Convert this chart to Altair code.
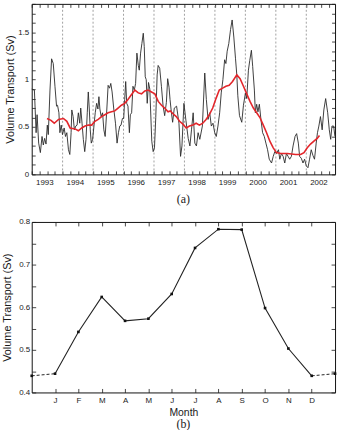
import altair as alt
import pandas as pd

# ---- Panel (a): volume transport time series (Sv), time in decimal years ----
raw_t = [1992.586, 1992.674, 1992.730, 1992.762, 1992.814, 1992.870, 1992.925, 1992.967,
         1993.010, 1993.055, 1993.098, 1993.130, 1993.186, 1993.238, 1993.293, 1993.349,
         1993.401, 1993.433, 1993.479, 1993.511, 1993.554, 1993.596, 1993.651, 1993.694,
         1993.739, 1993.792, 1993.837, 1993.879, 1993.902, 1993.945, 1993.987, 1994.033,
         1994.075, 1994.117, 1994.163, 1994.195, 1994.238, 1994.280, 1994.326, 1994.368,
         1994.410, 1994.443, 1994.476, 1994.508, 1994.541, 1994.586, 1994.629, 1994.671,
         1994.717, 1994.759, 1994.792, 1994.824, 1994.866, 1994.912, 1994.954, 1994.997,
         1995.052, 1995.094, 1995.140, 1995.182, 1995.225, 1995.280, 1995.336, 1995.388,
         1995.433, 1995.476, 1995.518, 1995.564, 1995.606, 1995.638, 1995.671, 1995.704,
         1995.746, 1995.792, 1995.824, 1995.866, 1995.909, 1995.954, 1995.997, 1996.039,
         1996.085, 1996.117, 1996.160, 1996.202, 1996.248, 1996.280, 1996.313, 1996.345,
         1996.378, 1996.420, 1996.463, 1996.528, 1996.573, 1996.616, 1996.658, 1996.704,
         1996.736, 1996.788, 1996.844, 1996.899, 1996.951, 1997.007, 1997.049, 1997.094,
         1997.127, 1997.169, 1997.212, 1997.267, 1997.342, 1997.420, 1997.472, 1997.518,
         1997.583, 1997.648, 1997.723, 1997.779, 1997.831, 1997.886, 1997.941, 1997.993,
         1998.049, 1998.104, 1998.189, 1998.267, 1998.319, 1998.375, 1998.430, 1998.482,
         1998.537, 1998.593, 1998.645, 1998.700, 1998.756, 1998.808, 1998.863, 1998.919,
         1998.961, 1999.003, 1999.055, 1999.114, 1999.166, 1999.221, 1999.277, 1999.319,
         1999.352, 1999.407, 1999.482, 1999.537, 1999.603, 1999.645, 1999.700, 1999.743,
         1999.798, 1999.840, 1999.896, 1999.928, 1999.971, 2000.013, 2000.059, 2000.111,
         2000.166, 2000.221, 2000.274, 2000.329, 2000.384, 2000.459, 2000.515, 2000.567,
         2000.622, 2000.687, 2000.730, 2000.785, 2000.840, 2000.893, 2000.948, 2001.003,
         2001.055, 2001.111, 2001.166, 2001.231, 2001.283, 2001.339, 2001.381, 2001.436,
         2001.492, 2001.544, 2001.599, 2001.655, 2001.707, 2001.762, 2001.818, 2001.870,
         2001.925, 2001.967, 2002.013, 2002.065, 2002.121, 2002.176, 2002.236, 2002.303,
         2002.355, 2002.401, 2002.443, 2002.498, 2002.541]
raw_v = [0.90, 0.89, 0.44, 0.63, 0.33, 0.23, 0.40, 0.31,
         0.38, 0.32, 0.52, 0.42, 0.89, 1.22, 1.17, 0.93,
         0.72, 0.73, 0.65, 0.44, 0.52, 0.42, 0.49, 0.40,
         0.44, 0.26, 0.21, 0.44, 0.68, 0.61, 0.47, 0.51,
         0.52, 0.65, 0.54, 0.70, 0.54, 0.37, 0.24, 0.37,
         0.65, 0.87, 0.69, 0.47, 0.33, 0.37, 0.51, 0.65,
         0.75, 0.69, 0.82, 0.69, 0.61, 0.65, 0.47, 0.40,
         0.69, 0.94, 0.91, 0.96, 0.87, 0.69, 0.54, 0.33,
         0.44, 0.51, 0.52, 0.59, 0.59, 0.79, 0.98, 0.75,
         0.72, 0.44, 0.63, 0.65, 0.93, 0.89, 0.96, 1.28,
         1.15, 1.10, 1.28, 1.38, 1.49, 1.35, 1.03, 1.00,
         0.75, 0.97, 0.90, 0.35, 0.24, 0.28, 0.60, 1.05,
         1.15, 1.12, 0.93, 0.72, 0.62, 0.76, 1.01, 0.92,
         0.79, 0.66, 0.55, 0.70, 0.72, 0.54, 0.19, 0.30,
         0.75, 0.57, 0.38, 0.30, 0.47, 0.65, 0.33, 0.30,
         0.44, 0.37, 0.51, 1.07, 0.79, 0.58, 0.65, 0.51,
         0.54, 0.44, 0.40, 0.51, 0.65, 0.86, 1.00, 1.21,
         1.17, 1.30, 1.38, 1.53, 1.63, 1.45, 1.22, 1.05,
         0.83, 0.62, 0.55, 0.73, 0.86, 0.80, 1.10, 1.20,
         1.31, 1.14, 0.89, 0.65, 0.74, 0.66, 0.74, 0.58,
         0.44, 0.40, 0.33, 0.26, 0.16, 0.12, 0.19, 0.24,
         0.22, 0.26, 0.16, 0.22, 0.19, 0.12, 0.22, 0.19,
         0.16, 0.19, 0.30, 0.40, 0.43, 0.33, 0.19, 0.17,
         0.12, 0.16, 0.09, 0.07, 0.16, 0.26, 0.20, 0.16,
         0.33, 0.44, 0.51, 0.61, 0.47, 0.68, 0.80, 0.65,
         0.47, 0.37, 0.51, 0.51, 0.40]

# 12-month running mean
mean_t = [1993.088, 1993.218, 1993.326, 1993.466, 1993.629, 1993.739, 1993.847, 1994.010,
          1994.117, 1994.228, 1994.336, 1994.443, 1994.554, 1994.661, 1994.769, 1994.879,
          1994.987, 1995.094, 1995.205, 1995.313, 1995.420, 1995.531, 1995.638, 1995.746,
          1995.857, 1995.974, 1996.085, 1996.192, 1996.300, 1996.410, 1996.518, 1996.629,
          1996.739, 1996.847, 1996.951, 1997.062, 1997.137, 1997.225, 1997.332, 1997.440,
          1997.550, 1997.658, 1997.765, 1997.876, 1997.984, 1998.091, 1998.202, 1998.309,
          1998.417, 1998.528, 1998.635, 1998.743, 1998.853, 1998.961, 1999.068, 1999.179,
          1999.319, 1999.427, 1999.537, 1999.645, 1999.752, 1999.863, 1999.971, 2000.078,
          2000.189, 2000.296, 2000.404, 2000.515, 2000.622, 2000.762, 2000.980, 2001.251,
          2001.414, 2001.524, 2001.632, 2001.739, 2001.850, 2001.958, 2002.033]
mean_v = [0.59, 0.57, 0.54, 0.58, 0.59, 0.56, 0.49, 0.48,
          0.46, 0.49, 0.51, 0.52, 0.52, 0.56, 0.58, 0.61,
          0.63, 0.65, 0.66, 0.67, 0.70, 0.73, 0.75, 0.79,
          0.84, 0.89, 0.86, 0.85, 0.88, 0.89, 0.87, 0.85,
          0.77, 0.73, 0.70, 0.66, 0.67, 0.64, 0.61, 0.56,
          0.53, 0.49, 0.51, 0.52, 0.54, 0.52, 0.54, 0.58,
          0.63, 0.70, 0.80, 0.89, 0.91, 0.93, 0.94, 0.98,
          1.05, 1.01, 0.93, 0.85, 0.77, 0.70, 0.65, 0.60,
          0.52, 0.44, 0.35, 0.28, 0.23, 0.22, 0.22, 0.21,
          0.21, 0.23, 0.28, 0.32, 0.35, 0.38, 0.41]

dash_t = [1993.6, 1994.6, 1995.6, 1996.6, 1997.6, 1998.6, 1999.6, 2000.6, 2001.6]
year_labels = [1993, 1994, 1995, 1996, 1997, 1998, 1999, 2000, 2001, 2002]

# ---- Panel (b): monthly mean transport; months 0 and 13 repeat Dec and Jan ----
month_idx = list(range(14))
month_v = [0.439, 0.444, 0.542, 0.624, 0.568, 0.573, 0.631, 0.739,
           0.783, 0.782, 0.598, 0.503, 0.439, 0.444]
month_letters = ["J", "F", "M", "A", "M", "J", "J", "A", "S", "O", "N", "D"]

SANS = "Liberation Sans, Arial, sans-serif"
NARROW = "Liberation Sans Narrow, Arial Narrow, Liberation Sans, sans-serif"
SERIF = "Liberation Serif, Times New Roman, serif"
INK = "#1a1a1a"

quarter_ticks = [round(1992.6 + 0.25 * k, 3) for k in range(40)]
tenth_ticks = [round(0.1 * k, 2) for k in range(19)]
twentieth_ticks = [round(0.4 + 0.05 * k, 2) for k in range(9)]


def inward(orient, values, size=3.5):
    """Axis that only draws short ticks pointing into the plot frame."""
    return alt.Axis(orient=orient, values=values, labels=False, domain=False,
                    grid=False, ticks=True, tickSize=size, offset=-size,
                    tickColor=INK, tickWidth=0.8, title=None)


# ---------------- panel (a) ----------------
xa = alt.Scale(domain=[1992.586, 2002.544], nice=False, zero=False)
ya = alt.Scale(domain=[0, 1.8], nice=False, zero=False)

df_raw = pd.DataFrame({"t": raw_t, "v": raw_v})
df_mean = pd.DataFrame({"t": mean_t, "v": mean_v})
df_dash = pd.DataFrame({"t": dash_t})

year_rules = alt.Chart(df_dash).mark_rule(
    color="#8a8a8a", strokeDash=[2, 2], strokeWidth=0.8
).encode(
    x=alt.X("t:Q", scale=xa, axis=inward("top", quarter_ticks)),
    y=alt.YDatum(0, type="quantitative", scale=ya, axis=inward("right", tenth_ticks)),
    y2=alt.Y2Datum(1.8),
)

raw_line = alt.Chart(df_raw).mark_line(color="#2a2a2a", strokeWidth=0.9).encode(
    x=alt.X("t:Q", scale=xa, title=None,
            axis=alt.Axis(orient="bottom", values=year_labels, format="d",
                          ticks=False, domain=False, grid=False,
                          labelPadding=4, labelFont=NARROW, labelFontSize=8)),
    y=alt.Y("v:Q", scale=ya, title="Volume Transport (Sv)",
            axis=alt.Axis(orient="left", values=[0, 0.5, 1, 1.5], format="~g",
                          ticks=False, domain=False, grid=False,
                          labelPadding=3, labelFont=NARROW, labelFontSize=8,
                          titlePadding=2)),
)

mean_line = alt.Chart(df_mean).mark_line(color="#e3262b", strokeWidth=1.6).encode(
    x=alt.X("t:Q", scale=xa, axis=inward("bottom", quarter_ticks)),
    y=alt.Y("v:Q", scale=ya, axis=inward("left", tenth_ticks)),
)

panel_a = alt.layer(year_rules, raw_line, mean_line).resolve_axis(
    x="independent", y="independent"
).properties(
    width=306, height=172,
    title=alt.TitleParams("(a)", orient="bottom", font=SERIF, fontSize=12,
                          fontWeight="normal", color=INK, offset=8),
)

# ---------------- panel (b) ----------------
xb = alt.Scale(domain=[0, 13], nice=False, zero=False)
yb = alt.Scale(domain=[0.4, 0.8], nice=False, zero=False)

df_b = pd.DataFrame({"m": month_idx, "v": month_v})
df_solid = df_b.iloc[1:13]
df_wrap = pd.concat([df_b.iloc[0:2].assign(seg="start"),
                     df_b.iloc[12:14].assign(seg="end")])

letters_expr = "['', " + ", ".join(f"'{c}'" for c in month_letters) + "][datum.value]"

solid_line = alt.Chart(df_solid).mark_line(color="#222", strokeWidth=1.1).encode(
    x=alt.X("m:Q", scale=xb, title="Month",
            axis=alt.Axis(orient="bottom", values=list(range(1, 13)),
                          labelExpr=letters_expr, ticks=False, domain=False,
                          grid=False, labelPadding=4, labelFont=SANS,
                          labelFontSize=8, titlePadding=3, titleFontSize=10.5)),
    y=alt.Y("v:Q", scale=yb, title="Volume Transport (Sv)",
            axis=alt.Axis(orient="left", values=[0.4, 0.5, 0.6, 0.7, 0.8],
                          format=".1f", ticks=False, domain=False, grid=False,
                          labelPadding=2, labelFont=SANS, labelFontSize=8,
                          titlePadding=6)),
)

wrap_line = alt.Chart(df_wrap).mark_line(
    color="#222", strokeWidth=1.0, strokeDash=[3, 2]
).encode(
    x=alt.X("m:Q", scale=xb, axis=inward("bottom", list(range(1, 13)), 4)),
    y=alt.Y("v:Q", scale=yb, axis=inward("left", twentieth_ticks, 4)),
    detail="seg:N",
)

month_pts = alt.Chart(df_b).mark_square(color="#111", size=7, opacity=1).encode(
    x=alt.X("m:Q", scale=xb, axis=inward("top", list(range(1, 13)), 4)),
    y=alt.Y("v:Q", scale=yb, axis=inward("right", twentieth_ticks, 4)),
)

panel_b = alt.layer(wrap_line, solid_line, month_pts).resolve_axis(
    x="independent", y="independent"
).properties(
    width=306, height=172,
    title=alt.TitleParams("(b)", orient="bottom", font=SERIF, fontSize=12,
                          fontWeight="normal", color=INK, offset=1),
)

chart = alt.concat(panel_a, panel_b, columns=1, align="none", spacing=11).properties(
    padding={"left": 1, "top": 1, "right": 2, "bottom": 0},
    background="white",
).configure_view(
    stroke="#111", strokeWidth=1
).configure_axis(
    labelColor=INK, titleColor=INK, titleFont=SANS, titleFontSize=11,
    titleFontWeight="normal",
)

chart.save("out.html", embed_options={"renderer": "svg", "actions": False})
